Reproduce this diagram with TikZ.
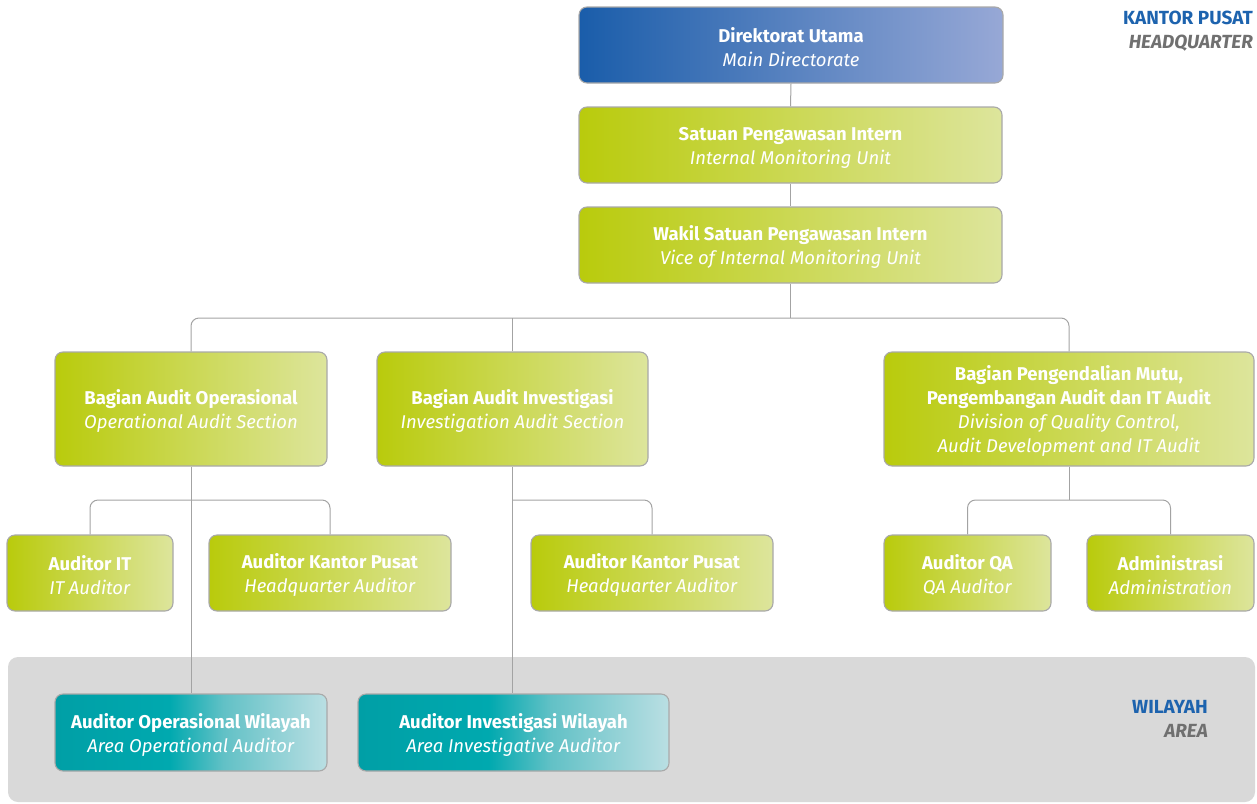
\documentclass[tikz,border=0pt]{standalone}
\usepackage{fontspec}
\setmainfont{Fira Sans}

% palette
\definecolor{blueA}{HTML}{1A5DAA}
\definecolor{blueB}{HTML}{97A8D6}
\definecolor{greenA}{HTML}{B9CB0C}
\definecolor{greenB}{HTML}{DDE59C}
\definecolor{tealA}{HTML}{009FA6}
\definecolor{tealB}{HTML}{00A9AF}
\definecolor{tealC}{HTML}{62C1C6}
\definecolor{tealD}{HTML}{BADFE3}
\definecolor{boxline}{HTML}{A9A9A9}
\definecolor{connline}{HTML}{A3A3A3}
\definecolor{areabg}{HTML}{D9D9D9}
\definecolor{headblue}{HTML}{1D63AE}
\definecolor{headgray}{HTML}{707070}

% horizontal shadings: the path spans 25bp..75bp
\pgfdeclarehorizontalshading{blueshade}{100bp}{color(0bp)=(blueA); color(25bp)=(blueA); color(75bp)=(blueB); color(100bp)=(blueB)}
\pgfdeclarehorizontalshading{greenshade}{100bp}{color(0bp)=(greenA); color(25bp)=(greenA); color(75bp)=(greenB); color(100bp)=(greenB)}
\pgfdeclarehorizontalshading{tealshade}{100bp}{color(0bp)=(tealA); color(25bp)=(tealA); color(46bp)=(tealB); color(56bp)=(tealC); color(75bp)=(tealD); color(100bp)=(tealD)}

\tikzset{
  unit/.style={draw=boxline, line width=1.1pt, rounded corners=8pt, text=white,
    align=center, inner sep=0pt, font=\fontsize{18.5}{24}\selectfont},
  bluebox/.style={unit, shading=blueshade},
  greenbox/.style={unit, shading=greenshade},
  tealbox/.style={unit, shading=tealshade},
  conn/.style={draw=connline, line width=1pt, rounded corners=8pt},
  headlabel/.style={align=right, inner sep=0pt, font=\fontsize{19}{24}\selectfont\bfseries},
}

% a taller first line sets the two text lines a little lower in the box
\newcommand{\topstrut}{\rule{0pt}{19pt}}
\newcommand{\unittext}[2]{\textbf{\topstrut#1}\\\textit{#2}}

\begin{document}
\begin{tikzpicture}[x=1pt,y=-1pt]
\useasboundingbox (0,0) rectangle (1257,803);

% regional area band
\fill[areabg, rounded corners=10pt] (8,657) rectangle (1255,802);

% head office units
\node[bluebox, minimum width=424pt, minimum height=76pt] (du) at (791,45)
  {\unittext{Direktorat Utama}{Main Directorate}};
\node[greenbox, minimum width=423pt, minimum height=76pt] (spi) at (790.5,145)
  {\unittext{Satuan Pengawasan Intern}{Internal Monitoring Unit}};
\node[greenbox, minimum width=423pt, minimum height=76pt] (wspi) at (790.5,245)
  {\unittext{Wakil Satuan Pengawasan Intern}{Vice of Internal Monitoring Unit}};

\node[greenbox, minimum width=272pt, minimum height=114pt] (bao) at (191,409)
  {\unittext{Bagian Audit Operasional}{Operational Audit Section}};
\node[greenbox, minimum width=271pt, minimum height=114pt] (bai) at (512.5,409)
  {\unittext{Bagian Audit Investigasi}{Investigation Audit Section}};
\node[greenbox, minimum width=370pt, minimum height=114pt] (bpm) at (1069,409)
  {\textbf{\topstrut Bagian Pengendalian Mutu,}\\\textbf{Pengembangan Audit dan IT Audit}\\
   \textit{Division of Quality Control,}\\\textit{Audit Development and IT Audit}};

\node[greenbox, minimum width=166pt, minimum height=76pt] (ait) at (90,573)
  {\unittext{Auditor IT}{IT Auditor}};
\node[greenbox, minimum width=242pt, minimum height=76pt] (akpa) at (330,573)
  {\unittext{Auditor Kantor Pusat}{Headquarter Auditor}};
\node[greenbox, minimum width=242pt, minimum height=76pt] (akpb) at (652,573)
  {\unittext{Auditor Kantor Pusat}{Headquarter Auditor}};
\node[greenbox, minimum width=167pt, minimum height=76pt] (aqa) at (967.5,573)
  {\unittext{Auditor QA}{QA Auditor}};
\node[greenbox, minimum width=167pt, minimum height=76pt] (adm) at (1170.5,573)
  {\unittext{Administrasi}{Administration}};

% regional units
\node[tealbox, minimum width=272pt, minimum height=77pt] (aow) at (191,732.5)
  {\unittext{Auditor Operasional Wilayah}{Area Operational Auditor}};
\node[tealbox, minimum width=311pt, minimum height=77pt] (aiw) at (513.5,732.5)
  {\unittext{Auditor Investigasi Wilayah}{Area Investigative Auditor}};

% section labels
\node[headlabel, anchor=north east] (hq) at (1253,11)
  {\textcolor{headblue}{KANTOR PUSAT}\\\textcolor{headgray}{\itshape HEADQUARTER}};
\node[headlabel, anchor=north east] (area) at (1208,700)
  {\textcolor{headblue}{WILAYAH}\\\textcolor{headgray}{\itshape AREA}};

% reporting lines
\coordinate (bus) at (790.5,318);
\draw[conn] (du.south) -- (spi.north);
\draw[conn] (spi.south) -- (wspi.north);
\draw[conn] (wspi.south) -- (bus);
\draw[conn] (bao.north) |- (bus) -| (bpm.north);
\draw[conn] (bai.north) -- (bai.north |- bus);

\coordinate (opfork) at (191,500);
\coordinate (invfork) at (512.5,500);
\coordinate (qmfork) at (1069,500);

\draw[conn] (bao.south) -- (bao.south |- aow.north);
\draw[conn] (ait.north) |- (opfork) -| (akpa.north);

\draw[conn] (bai.south) -- (bai.south |- aiw.north);
\draw[conn] (invfork) -| (akpb.north);

\draw[conn] (bpm.south) -- (qmfork);
\draw[conn] (aqa.north) |- (qmfork) -| (adm.north);
\end{tikzpicture}
\end{document}
